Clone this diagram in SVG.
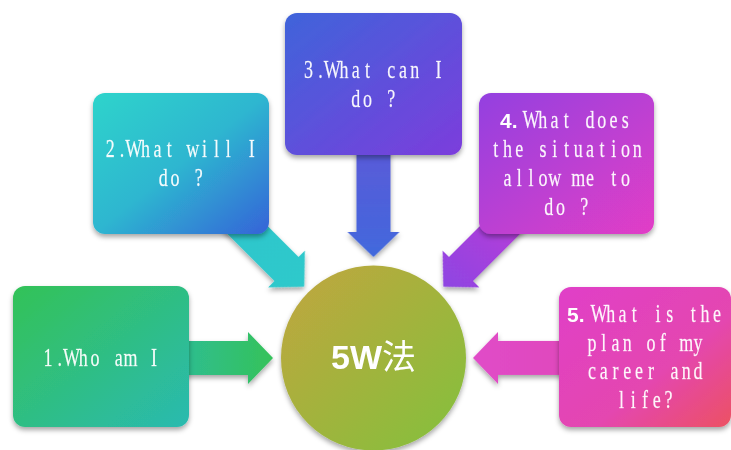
<svg xmlns="http://www.w3.org/2000/svg" width="731" height="450" viewBox="0 0 731 450">
<style>
.t{font-family:"Liberation Serif","DejaVu Serif",serif;font-size:25px;fill:#ffffff;fill-opacity:0.95;stroke:#ffffff;stroke-width:0.3;stroke-opacity:0.6;text-anchor:middle}
.b{font-family:"Liberation Sans",Arial,sans-serif;font-weight:bold;font-size:21px;fill:#ffffff}
.c{font-family:"Liberation Sans","Noto Sans CJK SC",sans-serif;font-weight:bold;font-size:34px;fill:#ffffff;text-anchor:middle}
</style>
<defs>
<filter id="sh" x="-20%" y="-20%" width="140%" height="150%">
<feDropShadow dx="0" dy="3" stdDeviation="2.5" flood-color="#000" flood-opacity="0.35"/>
</filter>
<linearGradient id="g1" x1="0" y1="0" x2="1" y2="1"><stop offset="0" stop-color="#33c257"/><stop offset="1" stop-color="#2bbab0"/></linearGradient>
<linearGradient id="g2" x1="0" y1="0" x2="1" y2="1"><stop offset="0" stop-color="#2ed4cb"/><stop offset="0.5" stop-color="#2db6d0"/><stop offset="1" stop-color="#3563d8"/></linearGradient>
<linearGradient id="g3" x1="0" y1="0" x2="1" y2="1"><stop offset="0" stop-color="#3f64da"/><stop offset="1" stop-color="#7c3ddc"/></linearGradient>
<linearGradient id="g4" x1="0" y1="0" x2="1" y2="1"><stop offset="0" stop-color="#9341e0"/><stop offset="1" stop-color="#e23ec6"/></linearGradient>
<linearGradient id="g5" x1="0" y1="0" x2="1" y2="1"><stop offset="0" stop-color="#e040c8"/><stop offset="0.6" stop-color="#e446b0"/><stop offset="1" stop-color="#ec5263"/></linearGradient>
<linearGradient id="gc" x1="0" y1="0" x2="1" y2="1"><stop offset="0" stop-color="#c2a53f"/><stop offset="1" stop-color="#82c13c"/></linearGradient>
<linearGradient id="a1" x1="0" y1="0" x2="1" y2="0"><stop offset="0" stop-color="#2dbd96"/><stop offset="1" stop-color="#35c25a"/></linearGradient>
<linearGradient id="a2" x1="0" y1="0" x2="1" y2="0"><stop offset="0" stop-color="#2fc6cc"/><stop offset="1" stop-color="#2ec9cb"/></linearGradient>
<linearGradient id="a3" x1="0" y1="0" x2="1" y2="0"><stop offset="0" stop-color="#5a5ad8"/><stop offset="1" stop-color="#4168dc"/></linearGradient>
<linearGradient id="a4" x1="0" y1="0" x2="1" y2="0"><stop offset="0" stop-color="#b53ed8"/><stop offset="1" stop-color="#8e45e2"/></linearGradient>
<linearGradient id="a5" x1="0" y1="0" x2="1" y2="0"><stop offset="0" stop-color="#e048bc"/><stop offset="1" stop-color="#e04cc8"/></linearGradient>
</defs>
<rect width="731" height="450" fill="#ffffff"/>
<g id="connectors" filter="url(#sh)">
<polygon transform="translate(248 358)" fill="url(#a1)" points="-75,-17 0,-17 0,-26 25,0 0,26 0,17 -75,17"/>
<polygon transform="translate(286.5 269) rotate(45)" fill="url(#a2)" points="-75,-17 0,-17 0,-26 25,0 0,26 0,17 -75,17"/>
<polygon transform="translate(373.5 232) rotate(90)" fill="url(#a3)" points="-85,-17 0,-17 0,-26 25,0 0,26 0,17 -85,17"/>
<polygon transform="translate(461 269) rotate(135)" fill="url(#a4)" points="-75,-17 0,-17 0,-26 25,0 0,26 0,17 -75,17"/>
<polygon transform="translate(498 358) rotate(180)" fill="url(#a5)" points="-75,-17 0,-17 0,-26 25,0 0,26 0,17 -75,17"/>
</g>
<g id="center">
<circle cx="373.5" cy="358" r="92.5" fill="url(#gc)" filter="url(#sh)"/>
<text class="c" x="373.5" y="369">5W<tspan font-weight="normal">法</tspan></text>
</g>
<g id="node1">
<rect x="13" y="286" width="176" height="141" rx="12" fill="url(#g1)" filter="url(#sh)"/>
<text class="t" transform="translate(101 366) scale(0.72 1)" x="-73.75 -57.36 -40.97 -24.58 -8.19 8.19 24.58 40.97 57.36 73.75">1.Who am I</text>
</g>
<g id="node2">
<rect x="93" y="93" width="176" height="141" rx="12" fill="url(#g2)" filter="url(#sh)"/>
<text class="t" transform="translate(181 157) scale(0.72 1)" x="-98.33 -81.94 -65.56 -49.17 -32.78 -16.39 0 16.39 32.78 49.17 65.56 81.94 98.33">2.What will I</text>
<text class="t" transform="translate(181 186) scale(0.72 1)" x="-24.58 -8.19 8.19 24.58">do ?</text>
</g>
<g id="node3">
<rect x="285" y="13" width="177" height="142" rx="12" fill="url(#g3)" filter="url(#sh)"/>
<text class="t" transform="translate(373.5 78) scale(0.72 1)" x="-90.14 -73.75 -57.36 -40.97 -24.58 -8.19 8.19 24.58 40.97 57.36 73.75 90.14">3.What can I</text>
<text class="t" transform="translate(373.5 107) scale(0.72 1)" x="-24.58 -8.19 8.19 24.58">do ?</text>
</g>
<g id="node4">
<rect x="479" y="93" width="175" height="141" rx="12" fill="url(#g4)" filter="url(#sh)"/>
<text class="b" x="500" y="128">4.</text>
<text class="t" transform="translate(525 128) scale(0.72 1)" x="8.19 24.58 40.97 57.36 73.75 90.14 106.53 122.92 139.31">What does</text>
<text class="t" transform="translate(566.5 157) scale(0.72 1)" x="-98.33 -81.94 -65.56 -49.17 -32.78 -16.39 0 16.39 32.78 49.17 65.56 81.94 98.33">the situation</text>
<text class="t" transform="translate(566.5 186) scale(0.72 1)" x="-81.94 -65.56 -49.17 -32.78 -16.39 0 16.39 32.78 49.17 65.56 81.94">allow me to</text>
<text class="t" transform="translate(566.5 215) scale(0.72 1)" x="-24.58 -8.19 8.19 24.58">do ?</text>
</g>
<g id="node5">
<rect x="559" y="287" width="172" height="140" rx="12" fill="url(#g5)" filter="url(#sh)"/>
<text class="b" x="567" y="322">5.</text>
<text class="t" transform="translate(593 322) scale(0.72 1)" x="8.19 24.58 40.97 57.36 73.75 90.14 106.53 122.92 139.31 155.70 172.09">What is the</text>
<text class="t" transform="translate(645 351) scale(0.72 1)" x="-73.75 -57.36 -40.97 -24.58 -8.19 8.19 24.58 40.97 57.36 73.75">plan of my</text>
<text class="t" transform="translate(645 379) scale(0.72 1)" x="-73.75 -57.36 -40.97 -24.58 -8.19 8.19 24.58 40.97 57.36 73.75">career and</text>
<text class="t" transform="translate(645 408) scale(0.72 1)" x="-32.78 -16.39 0 16.39 32.78">life?</text>
</g>
</svg>
